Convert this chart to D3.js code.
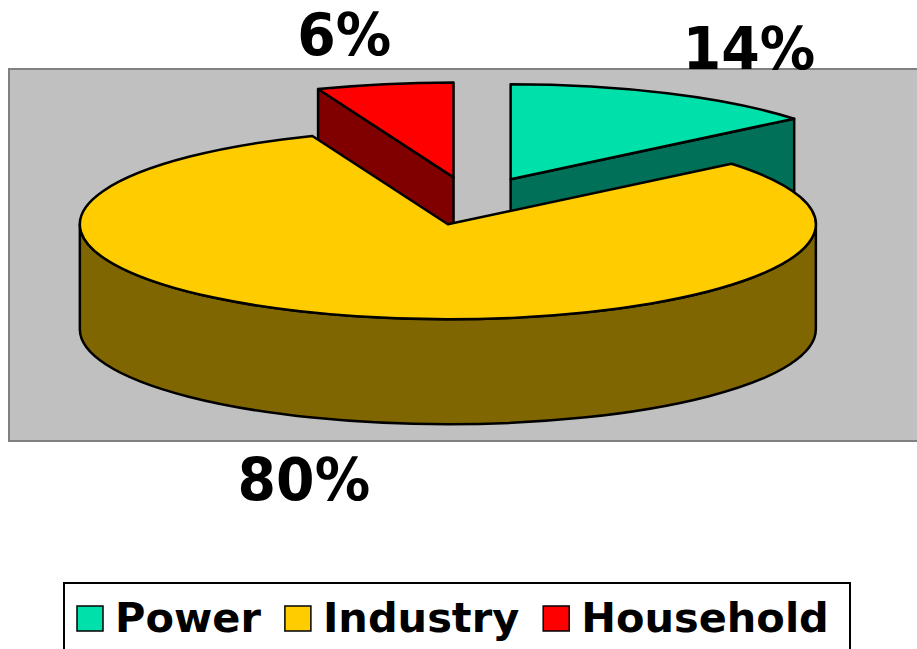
<!DOCTYPE html>
<html>
<head>
<meta charset="utf-8">
<script src="https://cdn.jsdelivr.net/npm/d3@7"></script>
<style>
  body { margin: 0; background: #fff; }
  svg { display: block; }
</style>
</head>
<body>
<script>
var categories = ["Power", "Industry", "Household"];
var shares = [14, 80, 6];
var topColors = ["#00E0AA", "#FFCC00", "#FF0000"];
var sideColors = ["#007058", "#806600", "#800000"];

var width = 917;
var height = 649;

var svg = d3.select("body")
    .append("svg")
    .attr("width", width)
    .attr("height", height);

// plot area
svg.append("rect")
    .attr("x", 9)
    .attr("y", 69)
    .attr("width", 930)
    .attr("height", 372)
    .attr("fill", "#C0C0C0")
    .attr("stroke", "#808080")
    .attr("stroke-width", 2);

// 3d pie settings
var cx = 471, cy = 201;
var rx = 368, ry = 95;
var depth = 105;
var explode = 0.253;

var data = categories.map(function(c, i) {
    return { name: c, value: shares[i], top: topColors[i], side: sideColors[i] };
});
var pie = d3.pie().sort(null).value(function(d) { return d.value; });
var piedata = pie(data);

piedata.forEach(function(d) {
    d.mid = (d.startAngle + d.endAngle) / 2;
    d.cx = cx + explode * rx * Math.sin(d.mid);
    d.cy = cy - explode * ry * Math.cos(d.mid);
});

function pt(d, a, dy) {
    return [d.cx + rx * Math.sin(a), d.cy - ry * Math.cos(a) + (dy || 0)];
}

function topPath(d) {
    var p0 = pt(d, d.startAngle), p1 = pt(d, d.endAngle);
    var large = (d.endAngle - d.startAngle) > Math.PI ? 1 : 0;
    return "M" + d.cx + "," + d.cy + "L" + p0 + "A" + rx + "," + ry + " 0 " + large + " 1 " + p1 + "Z";
}

function outerPath(d) {
    var s = Math.max(d.startAngle, Math.PI / 2);
    var e = Math.min(d.endAngle, 3 * Math.PI / 2);
    if (s >= e) return null;
    return "M" + pt(d, s) + "A" + rx + "," + ry + " 0 0 1 " + pt(d, e) +
        "L" + pt(d, e, depth) + "A" + rx + "," + ry + " 0 0 0 " + pt(d, s, depth) + "Z";
}

function wallPath(d, a) {
    return "M" + d.cx + "," + d.cy + "L" + pt(d, a) + "L" + pt(d, a, depth) +
        "L" + d.cx + "," + (d.cy + depth) + "Z";
}

// back slices first
var order = piedata.slice().sort(function(a, b) {
    return -Math.cos(a.mid) - -Math.cos(b.mid);
});

var pieG = svg.append("g")
    .attr("stroke", "#000")
    .attr("stroke-width", 2.5)
    .attr("stroke-linejoin", "round");

order.forEach(function(d) {
    var g = pieG.append("g");
    if (Math.sin(d.startAngle) < -1e-6) {
        g.append("path").attr("d", wallPath(d, d.startAngle)).attr("fill", d.data.side);
    }
    if (Math.sin(d.endAngle) > 1e-6) {
        g.append("path").attr("d", wallPath(d, d.endAngle)).attr("fill", d.data.side);
    }
    var op = outerPath(d);
    if (op) g.append("path").attr("d", op).attr("fill", d.data.side);
    g.append("path").attr("d", topPath(d)).attr("fill", d.data.top);
});

// percent labels
var labelRx = 660, labelRy = 174;
var total = d3.sum(shares);
svg.selectAll(".pct")
    .data(piedata)
    .enter().append("g")
    .attr("class", "pct")
    .attr("transform", function(d) {
        var x = cx - 3 + labelRx * Math.sin(d.mid);
        var y = cy + 2 - labelRy * Math.cos(d.mid) + (Math.cos(d.mid) < 0 ? depth : 0);
        return "translate(" + x + "," + y + ") scale(0.955,1)";
    })
    .append("text")
    .attr("text-anchor", "middle")
    .attr("dy", "0.4em")
    .style("font-family", "'DejaVu Sans', Verdana, sans-serif")
    .style("font-weight", "bold")
    .style("font-size", "58px")
    .text(function(d) { return Math.round(d.data.value / total * 100) + "%"; });

// legend
svg.append("rect")
    .attr("x", 64)
    .attr("y", 583)
    .attr("width", 786)
    .attr("height", 100)
    .attr("fill", "#fff")
    .attr("stroke", "#000")
    .attr("stroke-width", 2);

var lx = 77;
data.forEach(function(d) {
    svg.append("rect")
        .attr("x", lx)
        .attr("y", 606)
        .attr("width", 26)
        .attr("height", 25)
        .attr("fill", d.top)
        .attr("stroke", "#000")
        .attr("stroke-width", 1.5);
    var t = svg.append("text")
        .attr("x", lx + 38)
        .attr("y", 632)
        .style("font-family", "'DejaVu Sans', Verdana, sans-serif")
        .style("font-weight", "bold")
        .style("font-size", "41.5px")
        .text(d.name);
    lx = lx + 38 + t.node().getComputedTextLength() + 24;
});
</script>
</body>
</html>
